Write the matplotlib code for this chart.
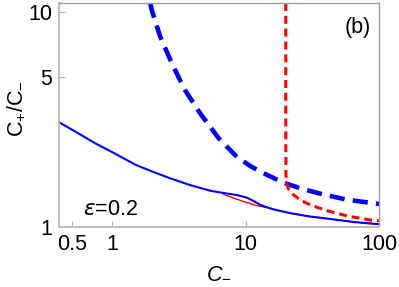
import numpy as np
import matplotlib
matplotlib.use('Agg')
import matplotlib.pyplot as plt

plt.rcParams['font.family'] = 'Liberation Sans'
plt.rcParams['mathtext.fontset'] = 'custom'
plt.rcParams['mathtext.it'] = 'Liberation Sans:italic'
plt.rcParams['mathtext.rm'] = 'Liberation Sans'

# values (C_-, C_+/C_-)
blue_solid_c = [0.40, 0.55, 0.746, 1.0, 1.49, 2.0, 2.72, 3.8, 5.42, 6.8, 8.5, 10.2, 11.5, 12.8, 16.0, 21.6, 30.0, 43.0, 65.0, 100.0]
blue_solid_r = [3.07, 2.74, 2.45, 2.23, 1.95, 1.81, 1.685, 1.57, 1.475, 1.44, 1.41, 1.37, 1.32, 1.27, 1.21, 1.16, 1.12, 1.09, 1.055, 1.03]

red_solid_c = [6.8, 8.5, 10.2, 12.0, 14.4, 18.0, 21.6, 30.0, 43.0, 65.0, 100.0]
red_solid_r = [1.42, 1.35, 1.30, 1.26, 1.23, 1.19, 1.16, 1.12, 1.09, 1.055, 1.03]

red_dash_c = [20.0, 20.0, 20.05, 20.3, 21.0, 22.9, 25.5, 28.7, 35.0, 43.0, 60.0, 86.0, 100.0]
red_dash_r = [11.0, 3.0, 1.75, 1.60, 1.50, 1.41, 1.34, 1.29, 1.23, 1.18, 1.12, 1.078, 1.07]

blue_dash_c = [1.93, 1.98, 2.29, 2.80, 3.48, 4.56, 6.3, 8.6, 11.0, 14.4, 19.1, 26.0, 36.1, 57.3, 100.0]
blue_dash_r = [11.0, 10.2, 7.68, 5.77, 4.37, 3.38, 2.58, 2.12, 1.91, 1.75, 1.61, 1.51, 1.43, 1.34, 1.28]

fig = plt.figure(figsize=(3.99, 2.87), dpi=100)
ax = fig.add_axes([0.148, 0.209, 0.802, 0.7805])

ax.plot(blue_dash_c, blue_dash_r, color='#0000ff', lw=3.3, dashes=(3.3, 1.8), solid_capstyle='butt')
ax.plot(red_dash_c, red_dash_r, color='#ff0000', lw=2.2, dashes=(2.6, 1.6))
ax.plot(red_solid_c, red_solid_r, color='#ff0000', lw=1.0)
ax.plot(blue_solid_c, blue_solid_r, color='#0000ff', lw=1.5)

ax.set_xscale('log')
ax.set_yscale('log')
ax.set_xlim(0.4, 100)
ax.set_ylim(1, 11)

ax.set_xticks([0.5, 1, 10, 100])
ax.set_xticklabels(['0.5', '1', '10', '100'])
ax.set_yticks([1, 5, 10])
ax.set_yticklabels(['1', '5', '10'])
ax.minorticks_off()
ax.tick_params(direction='in', length=4, width=0.8, color='#b0b0b0', labelsize=15.5, pad=5)

for s in ax.spines.values():
    s.set_color('#a0a0a0')
    s.set_linewidth(1.0)
ax.spines['left'].set_color('#c0c0c0')
ax.spines['left'].set_linewidth(1.5)
ax.spines['bottom'].set_color('#c0c0c0')
ax.spines['bottom'].set_linewidth(1.5)

ax.set_xlabel(r'$C_{-}$', fontsize=15.5, labelpad=5)
ax.set_ylabel(r'C$_{+}$/C$_{-}$', fontsize=15.5)
ax.yaxis.set_label_coords(-0.098, 0.53)

ax.text(0.075, 0.055, r'$\epsilon$=0.2', transform=ax.transAxes, fontsize=15.5,
        math_fontfamily='dejavusans')
ax.text(0.975, 0.865, '(b)', transform=ax.transAxes, fontsize=15.5, ha='right')

fig.savefig('out.png', dpi=100)
